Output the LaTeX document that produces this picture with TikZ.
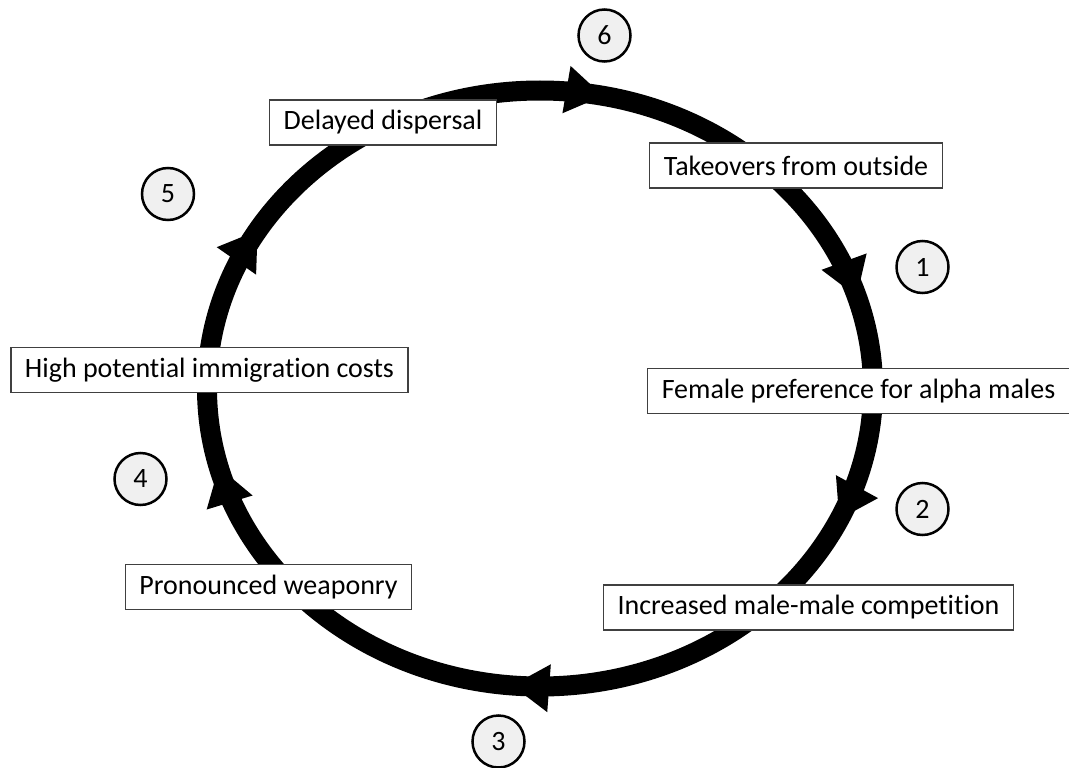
\documentclass[tikz,border=0pt]{standalone}
\usepackage{fontspec}
\setmainfont{Carlito}[RawFeature={-liga}]
\begin{document}
\begin{tikzpicture}[x=1pt,y=-1pt,
  lbl/.style={draw=black!75, line width=1.2pt, fill=white, inner xsep=14pt, inner ysep=0pt, minimum height=45pt, font=\fontsize{28}{33}\selectfont, text=black},
  num/.style={circle, draw=black, line width=2.5pt, fill=black!6, minimum size=52pt, inner sep=0pt, font=\fontsize{28}{33}\selectfont, text=black},
  ring/.style={line width=20pt, draw=black}]
\useasboundingbox (0,0) rectangle (1069,768);
\coordinate (c) at (540,388.5);
\draw[ring] (c) ellipse [x radius=333, y radius=298];
\foreach \t in {-79.1,-18,26,94.8,164.7,212}{
  \pgfmathsetmacro{\px}{540+333*cos(\t)}
  \pgfmathsetmacro{\py}{388.5+298*sin(\t)}
  \pgfmathsetmacro{\ux}{-sin(\t)}
  \pgfmathsetmacro{\uy}{0.895*cos(\t)}
  \pgfmathsetmacro{\nn}{sqrt(\ux*\ux+\uy*\uy)}
  \pgfmathsetmacro{\vx}{\ux/\nn}
  \pgfmathsetmacro{\vy}{\uy/\nn}
  \pgfmathsetmacro{\bx}{\px-37*\vx}
  \pgfmathsetmacro{\by}{\py-37*\vy}
  \pgfmathsetmacro{\ax}{\bx-24*\vy}
  \pgfmathsetmacro{\ay}{\by+24*\vx}
  \pgfmathsetmacro{\cx}{\bx+24*\vy}
  \pgfmathsetmacro{\cy}{\by-24*\vx}
  \fill[black] (\px,\py) -- (\ax,\ay) -- (\cx,\cy) -- cycle;
}
\node[lbl] (dd) at (383,122.5) {Delayed dispersal};
\node[lbl] (to) at (796,165.5) {Takeovers from outside};
\node[lbl] (fp) at (858.5,391) {Female preference for alpha males};
\node[lbl] (im) at (808.5,607.5) {Increased male-male competition};
\node[lbl] (pw) at (268.5,587) {Pronounced weaponry};
\node[lbl] (hp) at (209.5,370) {High potential immigration costs};
\node[num] (n6) at (604.5,35.5) {6};
\node[num] (n1) at (922.5,267) {1};
\node[num] (n2) at (922.5,509) {2};
\node[num] (n3) at (498.5,741.5) {3};
\node[num] (n4) at (140.5,479) {4};
\node[num] (n5) at (168,194) {5};
\end{tikzpicture}
\end{document}
